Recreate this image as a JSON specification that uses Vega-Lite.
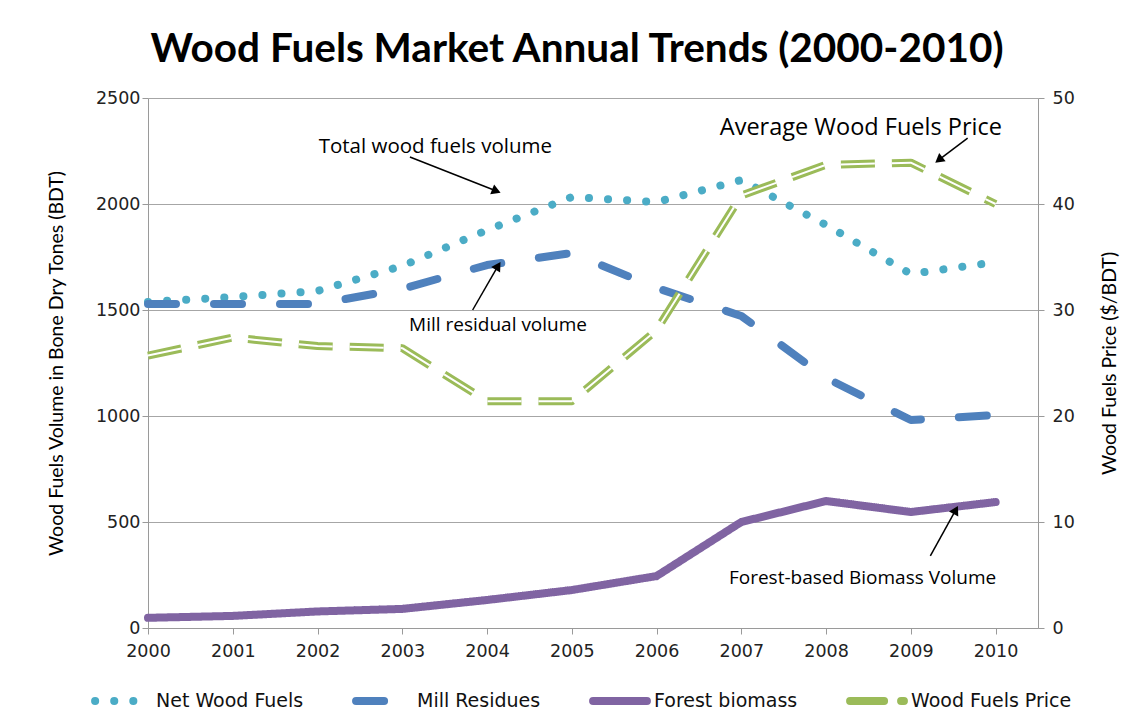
{
  "$schema": "https://vega.github.io/schema/vega-lite/v6.json",
  "width": 890,
  "height": 530,
  "autosize": {"type": "none"},
  "padding": {"left": 148, "top": 98, "right": 106, "bottom": 97},
  "background": "white",
  "title": {"text": "Wood Fuels Market Annual Trends (2000-2010)", "font": "Lato", "fontSize": 40.5, "fontWeight": "bold", "color": "#000000", "anchor": "middle", "frame": "group", "dx": -16, "offset": 19},
  "config": {
    "view": {"stroke": null},
    "axis": {"labelFont": "DejaVu Sans", "labelFontSize": 17.5, "labelColor": "#222222", "titleFont": "Lato", "titleFontSize": 19.5, "titleFontWeight": "normal", "titleColor": "#000000", "domainColor": "#9a9a9a", "tickColor": "#9a9a9a", "gridColor": "#a6a6a6", "tickSize": 6},
    "legend": {"labelFont": "DejaVu Sans", "labelFontSize": 19, "labelColor": "#111111", "labelLimit": 300}
  },
  "datasets": {
    "volume": [
      {"year": 2000, "series": "Net Wood Fuels", "value": 1538},
      {"year": 2001, "series": "Net Wood Fuels", "value": 1561},
      {"year": 2002, "series": "Net Wood Fuels", "value": 1590},
      {"year": 2003, "series": "Net Wood Fuels", "value": 1708},
      {"year": 2004, "series": "Net Wood Fuels", "value": 1877},
      {"year": 2005, "series": "Net Wood Fuels", "value": 2033},
      {"year": 2006, "series": "Net Wood Fuels", "value": 2009},
      {"year": 2007, "series": "Net Wood Fuels", "value": 2113},
      {"year": 2008, "series": "Net Wood Fuels", "value": 1901},
      {"year": 2009, "series": "Net Wood Fuels", "value": 1670},
      {"year": 2010, "series": "Net Wood Fuels", "value": 1726},
      {"year": 2000, "series": "Mill Residues", "value": 1528},
      {"year": 2001, "series": "Mill Residues", "value": 1528},
      {"year": 2002, "series": "Mill Residues", "value": 1528},
      {"year": 2003, "series": "Mill Residues", "value": 1600},
      {"year": 2004, "series": "Mill Residues", "value": 1712},
      {"year": 2005, "series": "Mill Residues", "value": 1769},
      {"year": 2006, "series": "Mill Residues", "value": 1604},
      {"year": 2007, "series": "Mill Residues", "value": 1472},
      {"year": 2008, "series": "Mill Residues", "value": 1179},
      {"year": 2009, "series": "Mill Residues", "value": 981},
      {"year": 2010, "series": "Mill Residues", "value": 1005},
      {"year": 2000, "series": "Forest biomass", "value": 48},
      {"year": 2001, "series": "Forest biomass", "value": 57},
      {"year": 2002, "series": "Forest biomass", "value": 78},
      {"year": 2003, "series": "Forest biomass", "value": 90},
      {"year": 2004, "series": "Forest biomass", "value": 132},
      {"year": 2005, "series": "Forest biomass", "value": 179},
      {"year": 2006, "series": "Forest biomass", "value": 245},
      {"year": 2007, "series": "Forest biomass", "value": 500},
      {"year": 2008, "series": "Forest biomass", "value": 599},
      {"year": 2009, "series": "Forest biomass", "value": 547},
      {"year": 2010, "series": "Forest biomass", "value": 594}
    ],
    "price": [
      {"year": 2000, "series": "Wood Fuels Price", "value": 25.7},
      {"year": 2001, "series": "Wood Fuels Price", "value": 27.4},
      {"year": 2002, "series": "Wood Fuels Price", "value": 26.6},
      {"year": 2003, "series": "Wood Fuels Price", "value": 26.4},
      {"year": 2004, "series": "Wood Fuels Price", "value": 21.4},
      {"year": 2005, "series": "Wood Fuels Price", "value": 21.4},
      {"year": 2006, "series": "Wood Fuels Price", "value": 28.1},
      {"year": 2007, "series": "Wood Fuels Price", "value": 40.8},
      {"year": 2008, "series": "Wood Fuels Price", "value": 43.7},
      {"year": 2009, "series": "Wood Fuels Price", "value": 43.9},
      {"year": 2010, "series": "Wood Fuels Price", "value": 40.0}
    ],
    "arrows": [
      {"label": "Total wood fuels volume", "x1": 2003.09, "y1": 2222, "x2": 2004.11, "y2": 2061, "tx": 2003.39, "ty": 2269},
      {"label": "Mill residual volume", "x1": 2003.83, "y1": 1500, "x2": 2004.13, "y2": 1708, "tx": 2004.13, "ty": 1429},
      {"label": "Average Wood Fuels Price", "x1": 2009.67, "y1": 2311, "x2": 2009.33, "y2": 2208, "tx": 2008.41, "ty": 2358},
      {"label": "Forest-based Biomass Volume", "x1": 2009.23, "y1": 340, "x2": 2009.53, "y2": 557, "tx": 2008.43, "ty": 236}
    ]
  },
  "layer": [
    {
      "layer": [
        {
          "data": {"name": "volume"},
          "mark": {"type": "line", "strokeCap": "round", "strokeJoin": "round"},
          "encoding": {
            "x": {"field": "year", "type": "quantitative", "scale": {"domain": [2000, 2010.5], "nice": false, "zero": false},
                  "axis": {"values": [2000, 2001, 2002, 2003, 2004, 2005, 2006, 2007, 2008, 2009, 2010], "format": "d", "title": null, "grid": false, "labelPadding": 8, "labelFlush": false}},
            "y": {"field": "value", "type": "quantitative", "scale": {"domain": [0, 2500], "nice": false},
                  "axis": {"values": [0, 500, 1000, 1500, 2000, 2500], "format": "d", "title": "Wood Fuels Volume in Bone Dry Tones (BDT)", "grid": true, "labelPadding": 2, "titlePadding": 29}},
            "color": {"field": "series", "type": "nominal", "scale": {"domain": ["Net Wood Fuels", "Mill Residues", "Forest biomass", "Wood Fuels Price"], "range": ["#4bacc6", "#4f81bd", "#8064a2", "#9bbb59"]},
                      "legend": {"title": null, "orient": "none", "legendX": -57, "legendY": 572, "direction": "horizontal", "columns": 4, "symbolType": "stroke", "symbolSize": 2900, "columnPadding": 36, "labelOffset": 3, "labelLimit": 300,
                                 "encode": {"symbols": {"update": {"strokeCap": {"value": "round"}}}}}},
            "strokeDash": {"field": "series", "type": "nominal", "scale": {"domain": ["Net Wood Fuels", "Mill Residues", "Forest biomass", "Wood Fuels Price"], "range": [[0.1, 19], [28, 38], [1, 0], [34, 17]]}, "legend": {"title": null}},
            "strokeWidth": {"field": "series", "type": "nominal", "scale": {"domain": ["Net Wood Fuels", "Mill Residues", "Forest biomass", "Wood Fuels Price"], "range": [8, 8, 6, 4.5]}, "legend": {"title": null}}
          }
        },
        {
          "data": {"name": "arrows"},
          "mark": {"type": "rule", "color": "#000000", "strokeWidth": 1.5},
          "encoding": {
            "x": {"field": "x1", "type": "quantitative"},
            "y": {"field": "y1", "type": "quantitative"},
            "x2": {"field": "x2"},
            "y2": {"field": "y2"}
          }
        },
        {
          "data": {"name": "arrows"},
          "transform": [{"filter": "datum.label == 'Total wood fuels volume'"}],
          "mark": {"type": "point", "shape": "triangle-up", "filled": true, "color": "#000000", "size": 110, "angle": 112, "opacity": 1},
          "encoding": {"x": {"field": "x2", "type": "quantitative"}, "y": {"field": "y2", "type": "quantitative"}}
        },
        {
          "data": {"name": "arrows"},
          "transform": [{"filter": "datum.label == 'Mill residual volume'"}],
          "mark": {"type": "point", "shape": "triangle-up", "filled": true, "color": "#000000", "size": 110, "angle": 32, "opacity": 1},
          "encoding": {"x": {"field": "x2", "type": "quantitative"}, "y": {"field": "y2", "type": "quantitative"}}
        },
        {
          "data": {"name": "arrows"},
          "transform": [{"filter": "datum.label == 'Average Wood Fuels Price'"}],
          "mark": {"type": "point", "shape": "triangle-up", "filled": true, "color": "#000000", "size": 110, "angle": 232, "opacity": 1},
          "encoding": {"x": {"field": "x2", "type": "quantitative"}, "y": {"field": "y2", "type": "quantitative"}}
        },
        {
          "data": {"name": "arrows"},
          "transform": [{"filter": "datum.label == 'Forest-based Biomass Volume'"}],
          "mark": {"type": "point", "shape": "triangle-up", "filled": true, "color": "#000000", "size": 110, "angle": 28, "opacity": 1},
          "encoding": {"x": {"field": "x2", "type": "quantitative"}, "y": {"field": "y2", "type": "quantitative"}}
        },
        {
          "data": {"name": "arrows"},
          "transform": [{"filter": "datum.label == 'Total wood fuels volume'"}],
          "mark": {"type": "text", "font": "Open Sans", "fontSize": 20.5, "color": "#000000", "align": "center", "baseline": "middle"},
          "encoding": {"x": {"field": "tx", "type": "quantitative"}, "y": {"field": "ty", "type": "quantitative"}, "text": {"field": "label"}}
        },
        {
          "data": {"name": "arrows"},
          "transform": [{"filter": "datum.label == 'Mill residual volume' || datum.label == 'Forest-based Biomass Volume'"}],
          "mark": {"type": "text", "font": "Open Sans", "fontSize": 19, "fontWeight": 500, "color": "#000000", "align": "center", "baseline": "middle"},
          "encoding": {"x": {"field": "tx", "type": "quantitative"}, "y": {"field": "ty", "type": "quantitative"}, "text": {"field": "label"}}
        },
        {
          "data": {"name": "arrows"},
          "transform": [{"filter": "datum.label == 'Average Wood Fuels Price'"}],
          "mark": {"type": "text", "font": "Open Sans", "fontSize": 23.5, "color": "#000000", "align": "center", "baseline": "middle"},
          "encoding": {"x": {"field": "tx", "type": "quantitative"}, "y": {"field": "ty", "type": "quantitative"}, "text": {"field": "label"}}
        }
      ]
    },
    {
      "data": {"name": "price"},
      "layer": [
        {
          "mark": {"type": "line", "strokeJoin": "round"},
          "encoding": {
            "x": {"field": "year", "type": "quantitative"},
            "y": {"field": "value", "type": "quantitative", "scale": {"domain": [0, 50], "nice": false},
                  "axis": {"orient": "right", "values": [0, 10, 20, 30, 40, 50], "title": "Wood  Fuels Price ($/BDT)", "titleAngle": 270, "grid": false, "labelPadding": 8, "titlePadding": 45}},
            "color": {"field": "series", "type": "nominal", "scale": {"domain": ["Net Wood Fuels", "Mill Residues", "Forest biomass", "Wood Fuels Price"]}},
            "strokeDash": {"field": "series", "type": "nominal"},
            "strokeWidth": {"field": "series", "type": "nominal"}
          }
        },
        {
          "mark": {"type": "line", "stroke": "#ffffff", "strokeWidth": 2, "strokeDash": [34, 17], "strokeJoin": "round"},
          "encoding": {
            "x": {"field": "year", "type": "quantitative"},
            "y": {"field": "value", "type": "quantitative"}
          }
        }
      ]
    }
  ],
  "resolve": {"scale": {"y": "independent"}, "axis": {"y": "independent"}}
}
